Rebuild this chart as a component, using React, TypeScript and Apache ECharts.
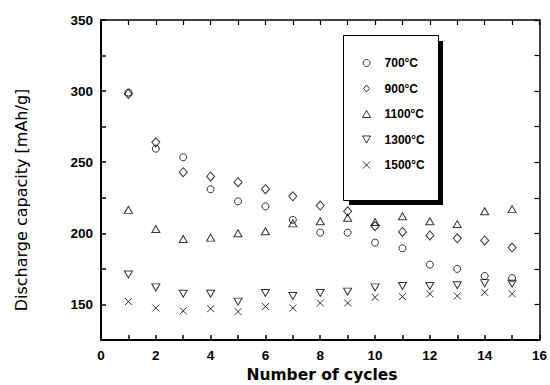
import React, { useEffect, useRef } from "react";
import * as echarts from "echarts";

const cycles = [1, 2, 3, 4, 5, 6, 7, 8, 9, 10, 11, 12, 13, 14, 15];
const seriesNames = ["700°C", "900°C", "1100°C", "1300°C", "1500°C"];
const cap700 = [299, 259.5, 253.5, 231, 222.5, 219, 209.5, 200.5, 200.5, 193.5, 189.5, 178, 175, 170, 168.5];
const cap900 = [298, 264, 243, 240, 236, 231, 226, 219.5, 215.5, 205, 201, 198.5, 196.5, 195, 190];
const cap1100 = [216.5, 203, 196, 197, 200, 201.5, 207, 208.5, 211, 208, 212, 208.5, 206.5, 215.5, 217];
const cap1300 = [171, 162, 157.5, 157.5, 152, 158, 156, 158, 159, 162, 163, 163, 163.5, 165, 164.5];
const cap1500 = [152, 147.5, 145.5, 147, 145, 148.5, 147.5, 151, 151, 155, 155.5, 157.5, 156, 158.5, 157.5];
const xTicks = [0, 2, 4, 6, 8, 10, 12, 14, 16];
const yTicks = [150, 200, 250, 300, 350];

const symbols = [
  "circle",
  "path://M5,0L10,6L5,12L0,6Z",
  "path://M5,0L10,8.66L0,8.66Z",
  "path://M0,0L10,0L5,8.66Z",
  "path://M0,0L10,10M0,10L10,0",
];
const symbolSizes: any[] = [7, [8, 9], [8, 7], [8, 7], [7, 7]];
const allData = [cap700, cap900, cap1100, cap1300, cap1500];

export default function App() {
  const ref = useRef<HTMLDivElement>(null);
  useEffect(() => {
    if (!ref.current) return;
    const chart = echarts.init(ref.current, null, { renderer: "svg" });
    const tickFont = {
      color: "#000",
      fontWeight: "bold" as const,
      fontSize: 13.5,
      fontFamily: "Liberation Sans, Arial, sans-serif",
    };
    const series = seriesNames.map((name, i) => ({
      name,
      type: "scatter",
      symbol: symbols[i],
      symbolSize: symbolSizes[i],
      symbolKeepAspect: false,
      data: cycles.map((c, j) => [c, allData[i][j]]),
      itemStyle: { color: "rgba(0,0,0,0)", borderColor: "#000", borderWidth: 1 },
      emphasis: { disabled: true },
      xAxisIndex: 0,
      yAxisIndex: 0,
    }));
    chart.setOption({
      animation: false,
      backgroundColor: "#fff",
      grid: { left: 101, right: 7, top: 20, bottom: 45 },
      xAxis: [
        {
          type: "value",
          position: "bottom",
          min: 0,
          max: 16,
          interval: 1,
          axisLine: { show: true, onZero: false, lineStyle: { color: "#000", width: 2 } },
          axisTick: { show: true, inside: true, length: 5, lineStyle: { color: "#000", width: 1.5 } },
          axisLabel: {
            ...tickFont,
            margin: 8,
            formatter: (v: number) => (xTicks.includes(v) ? String(v) : ""),
          },
          splitLine: { show: false },
        },
        {
          type: "value",
          position: "top",
          min: 0,
          max: 16,
          interval: 1,
          axisLine: { show: true, onZero: false, lineStyle: { color: "#000", width: 1.5 } },
          axisTick: { show: true, inside: true, length: 5, lineStyle: { color: "#000", width: 1.2 } },
          axisLabel: { show: false },
          splitLine: { show: false },
        },
      ],
      yAxis: [
        {
          type: "value",
          position: "left",
          min: 125,
          max: 350,
          interval: 25,
          axisLine: { show: true, onZero: false, lineStyle: { color: "#000", width: 2 } },
          axisTick: { show: true, inside: true, length: 5, lineStyle: { color: "#000", width: 1.5 } },
          axisLabel: {
            ...tickFont,
            margin: 8,
            formatter: (v: number) => (yTicks.includes(v) ? String(v) : ""),
          },
          splitLine: { show: false },
        },
        {
          type: "value",
          position: "right",
          min: 125,
          max: 350,
          interval: 25,
          axisLine: { show: true, onZero: false, lineStyle: { color: "#000", width: 1.5 } },
          axisTick: { show: true, inside: true, length: 5, lineStyle: { color: "#000", width: 1.2 } },
          axisLabel: { show: false },
          splitLine: { show: false },
        },
      ],
      legend: {
        orient: "vertical",
        left: 362,
        top: 57,
        itemWidth: 26,
        itemHeight: 7,
        itemGap: 13.5,
        selectedMode: false,
        symbolKeepAspect: true,
        padding: 0,
        data: seriesNames.map((n, i) => ({ name: n, icon: symbols[i] })),
        itemStyle: { color: "rgba(0,0,0,0)", borderColor: "#000", borderWidth: 1 },
        textStyle: {
          color: "#000",
          fontWeight: "bold",
          fontSize: 12,
          fontFamily: "Liberation Sans, Arial, sans-serif",
          padding: [0, 0, 0, 0],
        },
        z: 10,
      },
      graphic: [
        { type: "rect", shape: { x: 349, y: 41, width: 94, height: 164 }, style: { fill: "#000" }, z: 5 },
        {
          type: "rect",
          shape: { x: 343.5, y: 35.5, width: 95, height: 165 },
          style: { fill: "#fff", stroke: "#000", lineWidth: 1 },
          z: 6,
        },
        {
          type: "text",
          x: 322,
          y: 375,
          style: {
            text: "Number of cycles",
            fill: "#000",
            font: "bold 15.5px 'DejaVu Sans', sans-serif",
            align: "center",
            verticalAlign: "middle",
          },
        },
        {
          type: "text",
          x: 21,
          y: 200,
          rotation: Math.PI / 2,
          style: {
            text: "Discharge capacity [mAh/g]",
            fill: "#000",
            font: "16px 'DejaVu Sans', sans-serif",
            align: "center",
            verticalAlign: "middle",
          },
        },
      ],
      series,
    });
    return () => chart.dispose();
  }, []);
  return <div ref={ref} style={{ width: 550, height: 385, position: "absolute", left: 0, top: 0 }} />;
}
